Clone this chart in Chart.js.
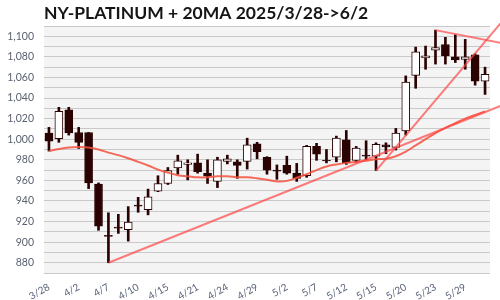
<!DOCTYPE html>
<html>
<head>
<meta charset="utf-8">
<script src="https://cdn.jsdelivr.net/npm/chart.js@4.4.1/dist/chart.umd.min.js"></script>
<style>
  body { margin: 0; background: #fff; }
</style>
</head>
<body>
<canvas id="chart" width="500" height="300"></canvas>
<script>
// trading days 3/28 -> 6/2
const dates = ['3/28','3/31','4/1','4/2','4/3','4/4','4/7','4/8','4/9','4/10','4/11','4/14','4/15','4/16','4/17',
  '4/21','4/22','4/23','4/24','4/25','4/28','4/29','4/30','5/1','5/2','5/5','5/6','5/7','5/8','5/9',
  '5/12','5/13','5/14','5/15','5/16','5/19','5/20','5/21','5/22','5/23','5/27','5/28','5/29','5/30','6/2'];

const opens  = [1006,1000.5,1028.5,1006.5,1006.5,956.5,906.5,914.5,912,936,931.5,949.5,957,972,975.5,
  977,967,959,978.5,978,978.5,995.5,982.5,970,974.5,967,964.5,993,979.5,982.5,
  999.5,979.5,984.5,983.5,994.5,992,1008,1062,1079,1086.5,1092,1080,1077.5,1082,1056.5];
const highs  = [1011.5,1031,1031,1011.5,1006.5,957.5,928.5,927,934.5,943.5,951.5,964.5,972.5,984.5,980,
  985.5,980,982.5,984.5,980,1001,997,983,975,983.5,976.5,994,996,990,1003,
  1008.5,993,998.5,996.5,996.5,1010.5,1061.5,1089.5,1090.5,1106,1099,1101.5,1097,1083,1070];
const lows   = [988.5,997,1004,991,952,911.5,880,908.5,901,929,926.5,949,956,966,960.5,
  967,957,953,976,962,971,981,966,961,966,959,963,979.5,977,978,
  975.5,977.5,980,969.5,986,989.5,1004,1049.5,1068,1073,1073,1074.5,1068,1052.5,1043.5];
const closes = [998,1027,1006,997,957.5,915.5,905.5,913.5,919.5,935,944,957,969.5,979,977,
  968.5,964,980,981,974.5,994.5,988,970,969,967,962,993,985.5,979,1001,
  977,991.5,983.5,995,992.5,1006,1055.5,1085,1081,1089,1081,1077,1080,1056.5,1063];

const ma20 = [988.5,990.5,992,992.5,992,990,987,984.5,981.5,978,974.5,970.5,967.5,965,964,
  963,963,964,964,963,963,962,960.5,959,959.5,962.5,966,970,973.5,975.5,
  977,978,979,980.5,981,983.5,988,994,1000,1006,1011,1015.5,1020,1023.5,1027];

// trend lines: [day index, price]
const trendLow  = [[6, 880], [45.56, 1032.3]];
const trendMay  = [[33, 969.5], [45.56, 1112.6]];
const trendTop  = [[39, 1106], [45.56, 1093.6]];

const dark = '#2b0202';

const plotBg = {
  id: 'plotBg',
  beforeDraw(chart) {
    const { ctx, chartArea: a } = chart;
    ctx.save();
    ctx.fillStyle = '#f4f4f4';
    ctx.fillRect(a.left, a.top, a.right - a.left, a.bottom - a.top);
    ctx.restore();
  },
  afterDraw(chart) {
    const { ctx, chartArea: a } = chart;
    ctx.save();
    ctx.fillStyle = '#151515';
    ctx.font = 'bold 17.5px Lato';
    ctx.textBaseline = 'alphabetic';
    ctx.fillText('NY-PLATINUM + 20MA 2025/3/28->6/2', a.left, 19);
    ctx.restore();
  }
};

const toXY = pts => pts.map(p => ({ x: p[0], y: p[1] }));
const trendStyle = {
  type: 'line',
  xAxisID: 'xl',
  borderColor: 'rgba(255,70,70,0.7)',
  borderWidth: 2,
  pointRadius: 0,
  clip: false,
};

new Chart(document.getElementById('chart'), {
  type: 'bar',
  data: {
    labels: dates,
    datasets: [
      { ...trendStyle, data: toXY(trendLow) },
      { ...trendStyle, data: toXY(trendMay) },
      { ...trendStyle, data: toXY(trendTop) },
      {
        type: 'line',
        data: ma20,
        borderColor: 'rgba(245,80,60,0.85)',
        borderWidth: 2,
        pointRadius: 0,
        tension: 0.4,
      },
      {
        data: opens.map((o, i) => [o, closes[i]]),
        backgroundColor: opens.map((o, i) => closes[i] >= o ? '#ffffff' : dark),
        borderColor: dark,
        borderWidth: 1,
        borderSkipped: false,
        barThickness: 8,
        grouped: false,
      },
      {
        data: lows.map((l, i) => [l, highs[i]]),
        backgroundColor: dark,
        barThickness: 2,
        grouped: false,
      },
    ],
  },
  options: {
    responsive: false,
    animation: false,
    layout: { padding: { top: 26, right: 10, left: 0, bottom: 0 } },
    plugins: { legend: { display: false }, tooltip: { enabled: false } },
    scales: {
      x: {
        grid: { display: false },
        border: { display: false },
        afterFit: s => { s.height = 27; },
        ticks: {
          autoSkip: false,
          minRotation: 30,
          maxRotation: 30,
          padding: 0,
          color: '#5a6478',
          font: { family: 'Lato', size: 10 },
          callback: (v, i) => i % 3 === 0 ? dates[i] : '',
        },
      },
      xl: {
        type: 'linear',
        display: false,
        offset: false,
        min: -0.5,
        max: 44.5,
      },
      y: {
        min: 870,
        max: 1110,
        border: { display: false },
        grid: { color: '#c9c9c9', drawTicks: false },
        afterFit: s => { s.width = 44; },
        ticks: {
          autoSkip: false,
          stepSize: 10,
          padding: 10,
          color: '#5a6270',
          font: { family: 'Lato', size: 10.5 },
          callback: v => v % 20 === 0 ? v.toLocaleString('en-US') : '',
        },
      },
    },
  },
  plugins: [plotBg],
});
</script>
</body>
</html>
